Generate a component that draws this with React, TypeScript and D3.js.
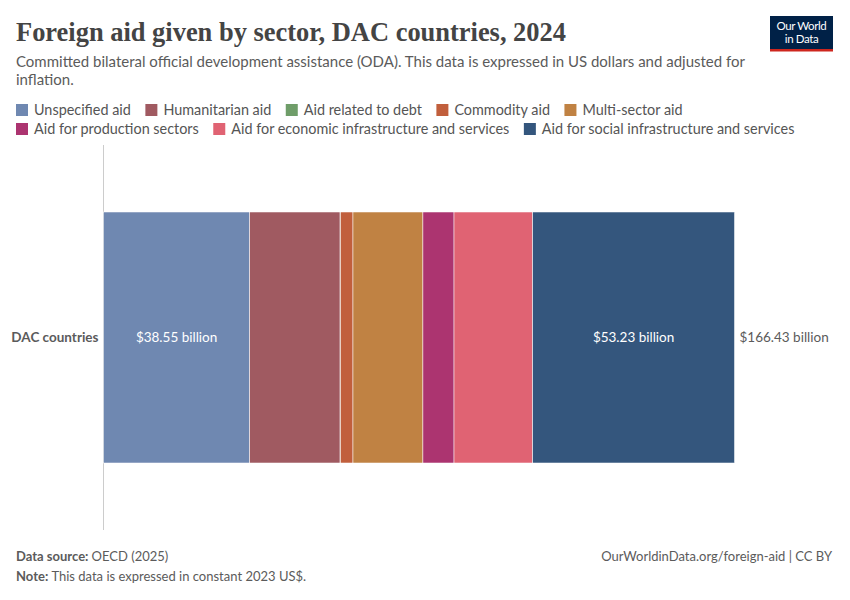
import React, { useRef, useEffect } from 'react';
import * as d3 from 'd3';

const sectors: string[] = [
  'Unspecified aid',
  'Humanitarian aid',
  'Aid related to debt',
  'Commodity aid',
  'Multi-sector aid',
  'Aid for production sectors',
  'Aid for economic infrastructure and services',
  'Aid for social infrastructure and services',
];
const values: number[] = [38.55, 23.85, 0.1, 3.3, 18.45, 8.2, 20.75, 53.23];
const colors: string[] = ['#6F88B1', '#A05A61', '#6F9D69', '#C15F3C', '#C08243', '#AC3470', '#E06373', '#34567D'];
const country = 'DAC countries';
const legendRows: number[][] = [[0, 1, 2, 3, 4], [5, 6, 7]];

const width = 850;
const height = 600;
const font = 'Lato, "Noto Sans", sans-serif';

function App() {
  const ref = useRef<SVGSVGElement>(null);

  useEffect(() => {
    if (!ref.current) return;
    const svg = d3.select(ref.current);
    svg.selectAll('*').remove();

    // header
    svg.append('text')
      .attr('x', 16).attr('y', 41)
      .attr('font-family', '"Liberation Serif", serif')
      .attr('font-size', 27)
      .attr('font-weight', 700)
      .attr('fill', '#444')
      .attr('textLength', 550)
      .attr('lengthAdjust', 'spacingAndGlyphs')
      .text('Foreign aid given by sector, DAC countries, 2024');

    const sub = svg.append('g').attr('font-family', font).attr('font-size', 15).attr('fill', '#5b5b5b');
    sub.append('text').attr('x', 16).attr('y', 67)
      .text('Committed bilateral official development assistance (ODA). This data is expressed in US dollars and adjusted for');
    sub.append('text').attr('x', 16).attr('y', 85).text('inflation.');

    // logo
    const logo = svg.append('g');
    logo.append('rect').attr('x', 770).attr('y', 16).attr('width', 63).attr('height', 35).attr('fill', '#002147');
    logo.append('rect').attr('x', 770).attr('y', 49).attr('width', 63).attr('height', 2.5).attr('fill', '#CE261E');
    logo.append('text').attr('x', 801.5).attr('y', 30).attr('text-anchor', 'middle')
      .attr('font-family', font).attr('font-size', 11.5).attr('fill', '#fff').attr('letter-spacing', -0.4).text('Our World');
    logo.append('text').attr('x', 801.5).attr('y', 43).attr('text-anchor', 'middle')
      .attr('font-family', font).attr('font-size', 11.5).attr('fill', '#fff').attr('letter-spacing', -0.4).text('in Data');

    // legend
    const legend = svg.append('g').attr('font-family', font).attr('font-size', 14.4).attr('fill', '#555');
    legendRows.forEach((row, r) => {
      let x = 16;
      const y = 110 + r * 19;
      row.forEach((i) => {
        legend.append('rect').attr('x', x).attr('y', y - 6).attr('width', 12).attr('height', 12).attr('fill', colors[i]);
        const t = legend.append('text').attr('x', x + 18).attr('y', y).attr('dy', '0.35em').text(sectors[i]);
        const w = (t.node() as SVGTextElement).getComputedTextLength();
        x += 18 + w + 14.5;
      });
    });

    // chart
    const x0 = 103.5;
    const x1 = 734.5;
    const total = d3.sum(values);
    const xScale = d3.scaleLinear().domain([0, total]).range([x0, x1]);
    const yScale = d3.scaleBand().domain([country]).range([145, 530]).paddingInner(0).paddingOuter(0.267);

    svg.append('line')
      .attr('x1', x0).attr('x2', x0).attr('y1', 145).attr('y2', 530)
      .attr('stroke', '#ccc').attr('stroke-width', 1);

    const stackData = [Object.fromEntries(sectors.map((s, i) => [s, values[i]]))];
    const series = d3.stack<any>().keys(sectors)(stackData as any);

    const bars = svg.append('g');
    series.forEach((s, i) => {
      const d = s[0];
      bars.append('rect')
        .attr('x', xScale(d[0]))
        .attr('y', yScale(country)!)
        .attr('width', Math.max(0, xScale(d[1]) - xScale(d[0])))
        .attr('height', yScale.bandwidth())
        .attr('fill', colors[i])
        .attr('stroke', '#fff')
        .attr('stroke-width', 0.5);
    });

    const cy = yScale(country)! + yScale.bandwidth() / 2;
    series.forEach((s, i) => {
      const d = s[0];
      const w = xScale(d[1]) - xScale(d[0]);
      if (w > 120) {
        svg.append('text')
          .attr('x', (xScale(d[0]) + xScale(d[1])) / 2).attr('y', cy).attr('dy', '0.35em')
          .attr('text-anchor', 'middle').attr('font-family', font).attr('font-size', 13.5).attr('fill', '#fff')
          .text(`$${values[i].toFixed(2)} billion`);
      }
    });

    svg.append('text')
      .attr('x', x1 + 5).attr('y', cy).attr('dy', '0.35em')
      .attr('font-family', font).attr('font-size', 13.5).attr('fill', '#5b5b5b')
      .text(`$${total.toFixed(2)} billion`);

    svg.append('text')
      .attr('x', x0 - 5).attr('y', cy).attr('dy', '0.35em').attr('text-anchor', 'end')
      .attr('font-family', font).attr('font-size', 13.5).attr('font-weight', 700).attr('fill', '#5b5b5b')
      .text(country);

    // footer
    const foot = svg.append('g').attr('font-family', font).attr('font-size', 13).attr('fill', '#5b5b5b');
    const src = foot.append('text').attr('x', 16).attr('y', 561);
    src.append('tspan').attr('font-weight', 700).text('Data source: ');
    src.append('tspan').text('OECD (2025)');
    const note = foot.append('text').attr('x', 16).attr('y', 581);
    note.append('tspan').attr('font-weight', 700).text('Note: ');
    note.append('tspan').text('This data is expressed in constant 2023 US$.');
    foot.append('text').attr('x', 832).attr('y', 561).attr('text-anchor', 'end')
      .text('OurWorldinData.org/foreign-aid | CC BY');
  }, []);

  return <svg ref={ref} width={width} height={height} style={{ display: 'block', margin: -8, background: '#fff' }} />;
}

export default App;
